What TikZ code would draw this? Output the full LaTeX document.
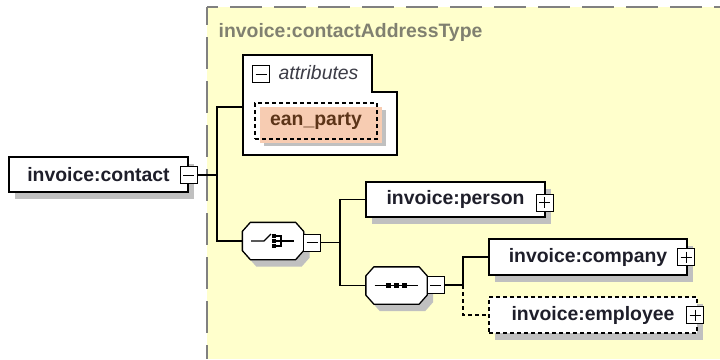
\documentclass[tikz,border=0pt]{standalone}
\usepackage{fontspec}
\setmainfont{Liberation Sans}
\usepackage{tikz}
\usetikzlibrary{shadows}
\definecolor{schemayellow}{RGB}{255,255,204}
\definecolor{framegray}{RGB}{128,128,128}
\definecolor{titlegray}{RGB}{128,128,112}
\definecolor{shadowgray}{RGB}{192,192,192}
\definecolor{attrsalmon}{RGB}{247,204,178}
\definecolor{attrbrown}{RGB}{92,52,24}
\definecolor{inktext}{RGB}{30,30,42}
\definecolor{attrgray}{RGB}{60,60,70}
% octagon outline round a compositor node
\newcommand\octagonpath[1]{([xshift=8pt]#1.north west) -- ([xshift=-8pt]#1.north east)
    -- ([yshift=-9pt]#1.north east) -- ([yshift=9pt]#1.south east)
    -- ([xshift=-8pt]#1.south east) -- ([xshift=8pt]#1.south west)
    -- ([yshift=9pt]#1.south west) -- ([yshift=-9pt]#1.north west) -- cycle}

\begin{document}
\begin{tikzpicture}[x=1pt, y=-1pt, line width=1.3pt,
    every node/.style={font=\fontsize{19.4}{22}\selectfont\bfseries, text=inktext},
    element/.style={draw, fill=white, inner sep=0pt, minimum height=35pt,
        general shadow={fill=shadowgray, shadow xshift=6pt, shadow yshift=-7pt}},
    attribute/.style={draw, dash pattern=on 4pt off 3pt, inner sep=0pt, text=attrbrown,
        general shadow={fill=shadowgray, shadow xshift=9pt, shadow yshift=-7pt},
        general shadow={fill=attrsalmon, shadow xshift=5pt, shadow yshift=-4pt}},
    compositor/.style={inner sep=0pt, minimum width=60pt, minimum height=36pt},
    expander/.style={draw, fill=white, inner sep=0pt, minimum size=17pt, line width=1pt},
    minusbox/.style={expander, path picture={
        \draw[line width=1pt] ([xshift=3pt]path picture bounding box.west) -- ([xshift=-3pt]path picture bounding box.east);}},
    plusbox/.style={expander, path picture={
        \draw[line width=1pt] ([xshift=3pt]path picture bounding box.west) -- ([xshift=-3pt]path picture bounding box.east);
        \draw[line width=1pt] ([yshift=-3pt]path picture bounding box.north) -- ([yshift=3pt]path picture bounding box.south);}},
    typelabel/.style={anchor=west, inner sep=0pt}]
    \useasboundingbox (0,0) rectangle (720,359);

    % Complex type area
    \fill[schemayellow] (207,7) rectangle (720,359);
    \draw[framegray, dash pattern=on 32pt off 12pt, dash phase=21pt] (207,7) -- (720,7);
    \draw[framegray, dash pattern=on 32pt off 12pt, dash phase=14pt] (207,7) -- (207,359);
    \node[typelabel, text=titlegray] (typetitle) at (218,32) {invoice:contactAddressType};

    % Attributes group
    \draw[fill=white] (243,55) -- (372,55) -- (372,92) -- (397,92) -- (397,155) -- (243,155) -- cycle;
    \coordinate (attrin) at (243,107);
    \node[minusbox] (attrexp) at (261,74) {};
    \node[typelabel, font=\fontsize{19.4}{22}\selectfont\itshape, text=attrgray] (attrlabel) at (278,73) {attributes};
    \node[attribute, minimum width=122pt, minimum height=36pt] (ean) at (316,121) {ean\_party};

    % Nodes
    \node[element, minimum width=179pt] (contact) at (98.5,174.5) {invoice:contact};
    \node[minusbox] (contactexp) at (188.5,175) {};

    \node[compositor] (choice) at (273,241) {};
    \node[compositor] (seq) at (396.5,285.5) {};
    \foreach \comp in {choice, seq} {
        \fill[shadowgray, transform canvas={shift={(6pt,-7pt)}}] \octagonpath{\comp};
        \draw[fill=white] \octagonpath{\comp};
    }
    \node[minusbox] (choiceexp) at (312,242.5) {};
    \node[minusbox] (seqexp) at (435.5,285) {};

    \node[element, minimum width=179pt] (person) at (455.5,199.5) {invoice:person};
    \node[plusbox] (personexp) at (544.5,202.5) {};
    \node[element, minimum width=198pt, minimum height=36pt] (company) at (588,257) {invoice:company};
    \node[plusbox] (companyexp) at (686,257) {};
    \node[element, dash pattern=on 4pt off 3pt, minimum width=208pt, minimum height=36pt] (employee) at (593,315) {invoice:employee};
    \node[plusbox] (employeeexp) at (695,315) {};

    % Compositor icons
    \begin{scope}[shift={(choice.center)}, line width=1.1pt]
        \draw (-22,0) -- (-9,0) -- (-2,-7);
        \fill (-1,-7) rectangle (3,-3);
        \fill (-1,-2) rectangle (3,2);
        \fill (-1,3) rectangle (3,7);
        \draw (3,-5) -- (8,-5) -- (8,5) -- (3,5);
        \draw (3,0) -- (21,0);
    \end{scope}
    \begin{scope}[shift={(seq.center)}, line width=1.1pt]
        \draw (-22,0) -- (21,0);
        \foreach \dx in {-8,0,8}
            \fill (\dx-2.5,-2.5) rectangle (\dx+2.5,2.5);
    \end{scope}

    % Edges
    \coordinate (split) at (217,175);
    \draw (contactexp.east) -- (split);
    \draw (split) |- (attrin);
    \draw (split) |- (choice.west);

    \coordinate (choicesplit) at (340,242.5);
    \draw (choiceexp.east) -- (choicesplit);
    \draw (choicesplit) |- (person.west);
    \draw (choicesplit) |- (seq.west);

    \coordinate (seqsplit) at (463,285);
    \draw (seqexp.east) -- (seqsplit);
    \draw (seqsplit) |- (company.west);
    \draw[dash pattern=on 4pt off 3pt] (seqsplit) |- (employee.west);
\end{tikzpicture}
\end{document}
